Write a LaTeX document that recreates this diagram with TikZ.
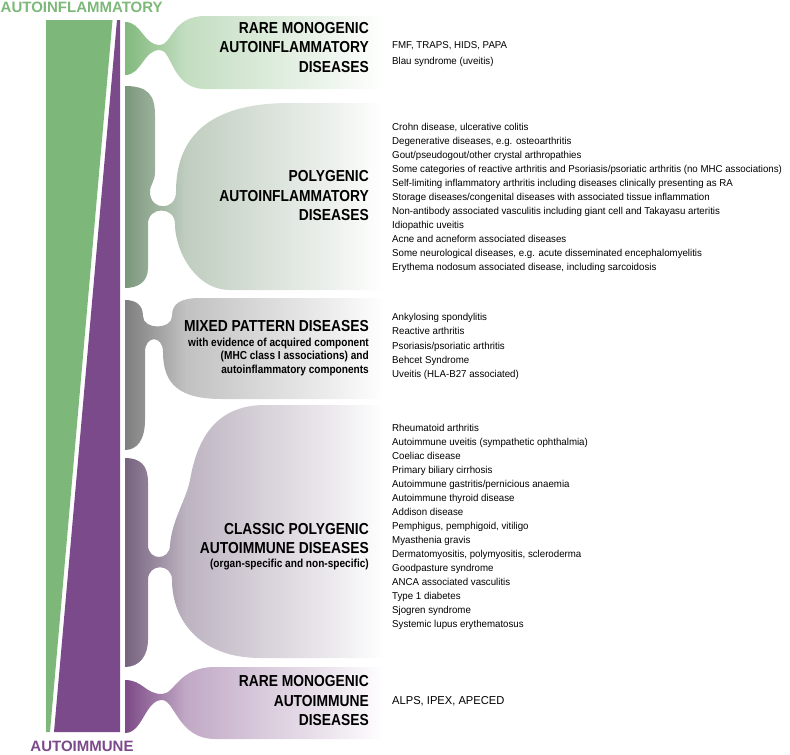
\documentclass[tikz,border=0pt]{standalone}
\usepackage{fontspec}
\setmainfont{Liberation Sans}
\newfontfamily\titlefont[FakeStretch=0.87]{Liberation Sans}
\newfontfamily\listfont[FakeStretch=0.97]{Liberation Sans}
\definecolor{gA}{HTML}{7DB87A}
\definecolor{pA}{HTML}{7B4A8A}
\definecolor{cs1}{HTML}{82B97D}
\definecolor{cs2}{HTML}{7B977B}
\definecolor{cs3}{HTML}{7E7E7E}
\definecolor{cs4}{HTML}{76627E}
\definecolor{cs5}{HTML}{7D4B87}
\newcommand\mkshade[2]{\pgfdeclarehorizontalshading{#1}{100bp}{color(0bp)=(#2); color(25bp)=(#2); color(30.5bp)=(#2!75!white); color(36bp)=(#2!48!white); color(49.5bp)=(#2!30!white); color(62.5bp)=(#2!14!white); color(72bp)=(white); color(100bp)=(white)}}
\mkshade{shA}{cs1}
\mkshade{shB}{cs2}
\mkshade{shC}{cs3}
\mkshade{shD}{cs4}
\mkshade{shE}{cs5}
\tikzset{
  ttl/.style={font=\titlefont\bfseries\fontsize{15.9}{19.5}\selectfont, align=right, inner sep=0, anchor=east},
  subttl/.style={font=\titlefont\bfseries\fontsize{11.6}{13.5}\selectfont, align=right, inner sep=0, anchor=east},
  lst/.style={font=\listfont\fontsize{10}{14}\selectfont, align=left, inner sep=0, anchor=west},
  axlbl/.style={font=\bfseries\fontsize{15}{18}\selectfont, inner sep=0}
}
\begin{document}
\begin{tikzpicture}[x=1pt,y=-1pt]
\useasboundingbox (0,0) rectangle (790,755);
% left wedges
\fill[gA] (46,20) -- (112.5,20) -- (50,732) -- (46,732) -- cycle;
\fill[pA] (117,20) -- (120,20) -- (120,732) -- (54,732) -- cycle;
% section shapes
\shade[shading=shA] (125,22) .. controls (142,22) and (143,45) .. (160,45) .. controls (172,45) and (172,16) .. (205,16) -- (400,16) -- (400,89) -- (205,89) .. controls (172,89) and (172,50) .. (160,50) .. controls (143,50) and (142,75) .. (125,75) -- cycle;
\shade[shading=shB] (125,86) .. controls (148,86) and (155,95) .. (155,115) -- (155,172) .. controls (155,182) and (150,184) .. (150,192) .. controls (150,211) and (176,211) .. (176,192) .. controls (176,140) and (205,103) .. (290,103) -- (400,103) -- (400,290) -- (230,290) .. controls (195,290) and (175,250) .. (175,224) .. controls (175,206) and (148,206) .. (148,224) -- (148,268) .. controls (148,282) and (138,288) .. (125,288) -- cycle;
\shade[shading=shC] (125,300) .. controls (136,300) and (143,305) .. (143,316) .. controls (143,330) and (172,330) .. (172,316) .. controls (172,304) and (180,298) .. (200,298) -- (400,298) -- (400,399) -- (222,399) .. controls (180,399) and (163,385) .. (163,352) .. controls (163,335) and (145,335) .. (145,352) -- (145,420) .. controls (145,440) and (137,450) .. (125,450) -- cycle;
\shade[shading=shD] (125,458) .. controls (140,458) and (148,465) .. (148,482) -- (148,545) .. controls (148,561) and (170,561) .. (170,545) .. controls (172,520) and (186,500) .. (190,480) .. controls (197,440) and (215,405) .. (265,405) -- (400,405) -- (400,658) -- (260,658) .. controls (200,658) and (172,620) .. (172,580) .. controls (172,563) and (148,563) .. (148,580) -- (148,640) .. controls (148,655) and (140,667) .. (125,667) -- cycle;
\shade[shading=shE] (125,680) .. controls (143,680) and (145,694) .. (162,694) .. controls (175,694) and (178,667) .. (215,667) -- (400,667) -- (400,739) -- (215,739) .. controls (178,739) and (175,700) .. (162,700) .. controls (145,700) and (143,733) .. (125,733) -- cycle;
% axis labels
\node[axlbl, text=gA, anchor=west] (topl) at (0.5,7) {AUTOINFLAMMATORY};
\node[axlbl, text=pA] (botl) at (82,746) {AUTOIMMUNE};
% titles
\node[ttl] (t1) at (369,47.5) {RARE MONOGENIC\\AUTOINFLAMMATORY\\DISEASES};
\node[ttl] (t2) at (369,196) {POLYGENIC\\AUTOINFLAMMATORY\\DISEASES};
\node[ttl] (t3) at (369,326) {MIXED PATTERN DISEASES};
\node[subttl] (t3s) at (369,356.5) {with evidence of acquired component\\(MHC class I associations) and\\autoinflammatory components};
\node[ttl] (t4) at (369,538.5) {CLASSIC POLYGENIC\\AUTOIMMUNE DISEASES};
\node[subttl] (t4s) at (369,565) {(organ-specific and non-specific)};
\node[ttl] (t5) at (369,701) {RARE MONOGENIC\\AUTOIMMUNE\\DISEASES};
% lists
\node[lst, font=\listfont\fontsize{10}{15.5}\selectfont] (l1) at (392,54) {FMF, TRAPS, HIDS, PAPA\\Blau syndrome (uveitis)};
\node[lst] (l2) at (392,198) {Crohn disease, ulcerative colitis\\Degenerative diseases, e.g. osteoarthritis\\Gout/pseudogout/other crystal arthropathies\\Some categories of reactive arthritis and Psoriasis/psoriatic arthritis (no MHC associations)\\Self-limiting inflammatory arthritis including diseases clinically presenting as RA\\Storage diseases/congenital diseases with associated tissue inflammation\\Non-antibody associated vasculitis including giant cell and Takayasu arteritis\\Idiopathic uveitis\\Acne and acneform associated diseases\\Some neurological diseases, e.g. acute disseminated encephalomyelitis\\Erythema nodosum associated disease, including sarcoidosis};
\node[lst, font=\listfont\fontsize{10}{14.2}\selectfont] (l3) at (392,346.5) {Ankylosing spondylitis\\Reactive arthritis\\Psoriasis/psoriatic arthritis\\Behcet Syndrome\\Uveitis (HLA-B27 associated)};
\node[lst] (l4) at (392,527) {Rheumatoid arthritis\\Autoimmune uveitis (sympathetic ophthalmia)\\Coeliac disease\\Primary biliary cirrhosis\\Autoimmune gastritis/pernicious anaemia\\Autoimmune thyroid disease\\Addison disease\\Pemphigus, pemphigoid, vitiligo\\Myasthenia gravis\\Dermatomyositis, polymyositis, scleroderma\\Goodpasture syndrome\\ANCA associated vasculitis\\Type 1 diabetes\\Sjogren syndrome\\Systemic lupus erythematosus};
\node[lst, font=\listfont\fontsize{11.5}{14}\selectfont] (l5) at (392,701) {ALPS, IPEX, APECED};
\end{tikzpicture}
\end{document}
